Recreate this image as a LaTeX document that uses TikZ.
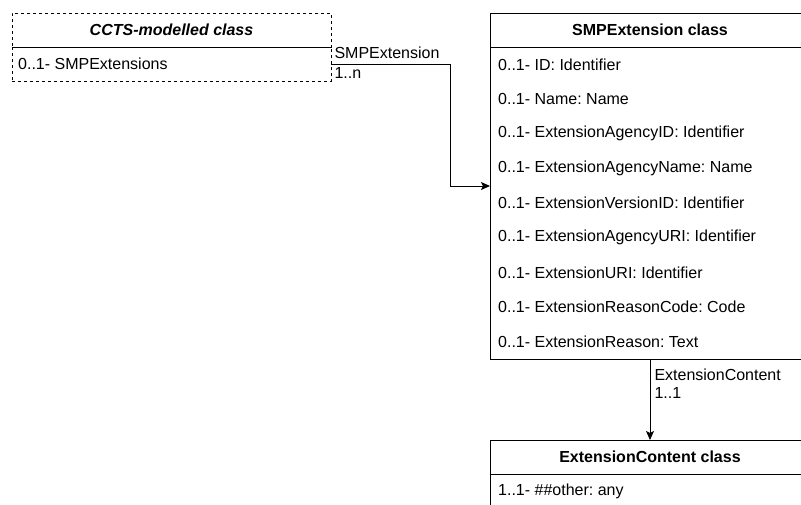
\documentclass[tikz,border=0pt]{standalone}
\usepackage{fontspec}
\setmainfont{Liberation Sans}
\usetikzlibrary{arrows.meta}
\usetikzlibrary{calc}
\frenchspacing

\tikzset{
	classbox/.style={draw,line width=1pt,minimum width=320pt,inner sep=0pt,outer sep=0pt},
	head/.style={font=\fontsize{16}{19}\selectfont\bfseries},
	attr/.style={anchor=west,inner sep=0pt,font=\fontsize{16}{19}\selectfont},
	assoc/.style={->,>={Stealth[length=9pt,width=8pt,inset=2pt]},line width=1pt}
}

\begin{document}
\begin{tikzpicture}[x=1pt,y=-1pt]
	\clip (0,0) rectangle (801,504);

	% CCTS class (dashed)
	\node(cctshead) at (171.5,30)[classbox,dashed,minimum width=319pt,minimum height=34pt,font=\fontsize{16}{19}\selectfont\bfseries\itshape]{CCTS-modelled class};
	\node(cctsrow) at (171.5,64)[classbox,dashed,minimum width=319pt,minimum height=34pt]{};
	\node(cctsattr) at (18,64)[attr]{0..1- SMPExtensions};

	% SMPExtension class
	\node(smp) at (650,186)[classbox,minimum height=346pt]{};
	\node(smphead) at (650,30)[classbox,minimum height=34pt,head]{SMPExtension class};
	\foreach \t [count=\i from 0] in {ID: Identifier,Name: Name,ExtensionAgencyID: Identifier,ExtensionAgencyName: Name,ExtensionVersionID: Identifier,ExtensionAgencyURI: Identifier,ExtensionURI: Identifier,ExtensionReasonCode: Code,ExtensionReason: Text}
		\node(smprow\i) at (498,{64.5+34.67*\i})[attr]{0..1- \t};

	% ExtensionContent class
	\node(echead) at (650,457)[classbox,minimum height=34pt,head]{ExtensionContent class};
	\node(ecbody) at (650,491)[classbox,minimum height=34pt]{};
	\node(ecrow) at (498,491)[attr]{1..1- \#\#other: any};

	\draw[assoc](cctsrow.east) -- node[pos=0,attr,xshift=3pt,yshift=11pt]{SMPExtension} node[pos=0,attr,xshift=3pt,yshift=-9pt]{1..n} ++(119,0) |- (smp.west);
	\draw[assoc](smp.south) -- node[pos=0.2,attr,xshift=4pt]{ExtensionContent} node[pos=0.42,attr,xshift=4pt]{1..1} (echead.north);
\end{tikzpicture}
\end{document}
